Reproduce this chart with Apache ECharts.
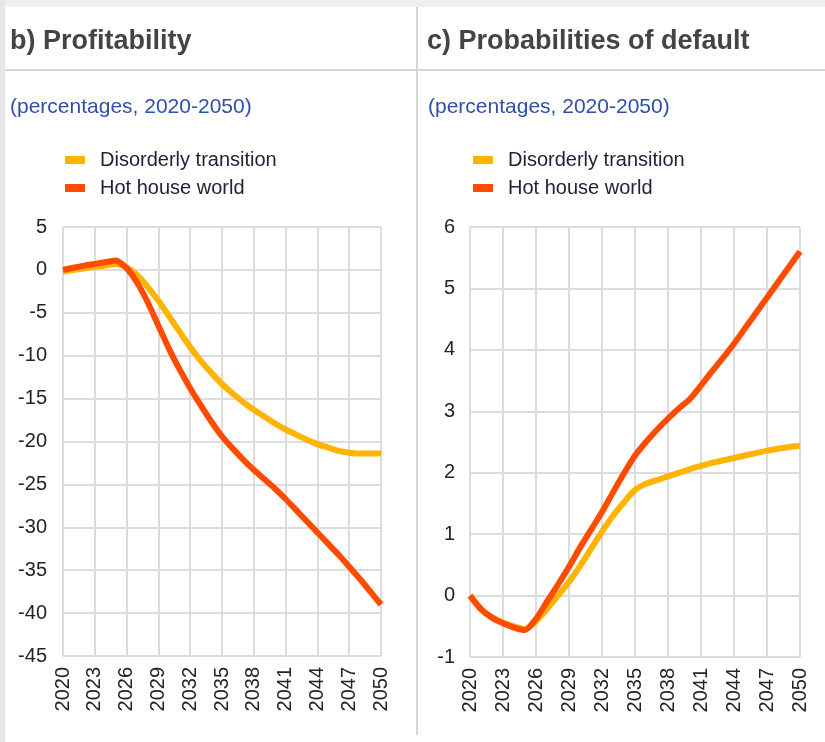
<!DOCTYPE html>
<html>
<head>
<meta charset="utf-8">
<script src="https://cdn.jsdelivr.net/npm/echarts@6/dist/echarts.min.js"></script>
<style>
  html, body { margin: 0; padding: 0; background: #fff; }
  #main { width: 825px; height: 742px; }
</style>
</head>
<body>
<div id="main"></div>
<script>
// years 2020-2050, labels every 3 years
var years = [];
for (var y = 2020; y <= 2050; y++) { years.push(String(y)); }

// b) profitability (percentages)
var profitDisorderly = [-0.2, 0.0, 0.2, 0.35, 0.5, 0.7, 0.3, -0.6, -2.0, -3.6,
  -5.4, -7.2, -9.0, -10.6, -12.0, -13.3, -14.4, -15.4, -16.3, -17.1,
  -17.9, -18.6, -19.2, -19.8, -20.3, -20.7, -21.1, -21.3, -21.4, -21.4, -21.4];
var profitHotHouse = [0.0, 0.25, 0.5, 0.7, 0.9, 1.1, 0.2, -1.5, -3.8, -6.5,
  -9.2, -11.6, -13.8, -15.8, -17.7, -19.4, -20.8, -22.1, -23.3, -24.4,
  -25.5, -26.7, -28.0, -29.3, -30.6, -31.9, -33.2, -34.6, -36.0, -37.5, -39.0];

// c) probabilities of default (percentages)
var pdDisorderly = [0.0, -0.22, -0.35, -0.44, -0.5, -0.55, -0.42, -0.22, 0.0, 0.22,
  0.48, 0.76, 1.04, 1.3, 1.52, 1.72, 1.82, 1.88, 1.94, 2.0,
  2.06, 2.11, 2.16, 2.2, 2.24, 2.28, 2.32, 2.36, 2.39, 2.42, 2.44];
var pdHotHouse = [0.0, -0.22, -0.36, -0.45, -0.52, -0.56, -0.38, -0.1, 0.18, 0.47,
  0.78, 1.07, 1.36, 1.68, 1.99, 2.28, 2.5, 2.7, 2.88, 3.05,
  3.2, 3.42, 3.65, 3.87, 4.1, 4.35, 4.6, 4.85, 5.1, 5.35, 5.6];

var names = ['Disorderly transition', 'Hot house world'];
var colors = ['#FFB400', '#FF4B00'];
var font = "'Liberation Sans', Arial, sans-serif";
var gridColor = '#dcdcdc';

var chart = echarts.init(document.getElementById('main'));

//坐标轴
function xAxis(idx) {
    return {
        type: 'category', gridIndex: idx, data: years, boundaryGap: false,
        axisLine: {lineStyle: {color: gridColor, width: 2}},
        axisTick: {show: false},
        axisLabel: {interval: 2, rotate: 90, margin: 11, color: '#22222a', fontSize: 20, fontFamily: font},
        splitLine: {show: true, interval: 2, lineStyle: {color: gridColor, width: 2}}
    };
}
function yAxis(idx, min, max, step, margin) {
    return {
        type: 'value', gridIndex: idx, min: min, max: max, interval: step,
        axisLine: {show: false}, axisTick: {show: false},
        axisLabel: {margin: margin, color: '#22222a', fontSize: 20, fontFamily: font},
        splitLine: {lineStyle: {color: gridColor, width: 2}}
    };
}
function line(name, data, idx, color) {
    return {
        name: name, type: 'line', xAxisIndex: idx, yAxisIndex: idx, data: data,
        showSymbol: false, smooth: 0.2, animation: false,
        lineStyle: {color: color, width: 6}, itemStyle: {color: color}
    };
}
function legend(left) {
    return {
        left: left, top: 145, orient: 'vertical', itemGap: 8,
        itemWidth: 20, itemHeight: 8, icon: 'rect', data: names,
        textStyle: {color: '#22223a', fontSize: 20, fontFamily: font, padding: [0, 0, 0, 10]}
    };
}

var option = {
    backgroundColor: '#fff',
    title: [
        {text: 'b) Profitability', left: 5, top: 23, textStyle: {color: '#444', fontSize: 27, fontWeight: 'bold', fontFamily: font}},
        {text: 'c) Probabilities of default', left: 422, top: 23, textStyle: {color: '#444', fontSize: 27, fontWeight: 'bold', fontFamily: font}},
        {text: '(percentages, 2020-2050)', left: 5, top: 92, textStyle: {color: '#2f4fa8', fontSize: 21, fontWeight: 'normal', fontFamily: font}},
        {text: '(percentages, 2020-2050)', left: 423, top: 92, textStyle: {color: '#2f4fa8', fontSize: 21, fontWeight: 'normal', fontFamily: font}}
    ],
    legend: [legend(60), legend(468)],
    grid: [
        {left: 63, top: 227, width: 318, height: 429},
        {left: 470, top: 227, width: 330, height: 430}
    ],
    xAxis: [xAxis(0), xAxis(1)],
    yAxis: [yAxis(0, -45, 5, 5, 16), yAxis(1, -1, 6, 1, 15)],
    series: [
        line(names[0], profitDisorderly, 0, colors[0]),
        line(names[1], profitHotHouse, 0, colors[1]),
        line(names[0], pdDisorderly, 1, colors[0]),
        line(names[1], pdHotHouse, 1, colors[1])
    ],
    graphic: [
        // 边框
        {type: 'rect', shape: {x: 0, y: 0, width: 825, height: 7}, style: {fill: '#efefef'}, silent: true},
        {type: 'rect', shape: {x: 0, y: 0, width: 5, height: 742}, style: {fill: '#e6e6e6'}, silent: true},
        {type: 'line', shape: {x1: 5, y1: 70, x2: 825, y2: 70}, style: {stroke: '#d6d6d6', lineWidth: 2}, silent: true},
        {type: 'line', shape: {x1: 417, y1: 7, x2: 417, y2: 735}, style: {stroke: '#d6d6d6', lineWidth: 2}, silent: true}
    ]
};
chart.setOption(option);
</script>
</body>
</html>
